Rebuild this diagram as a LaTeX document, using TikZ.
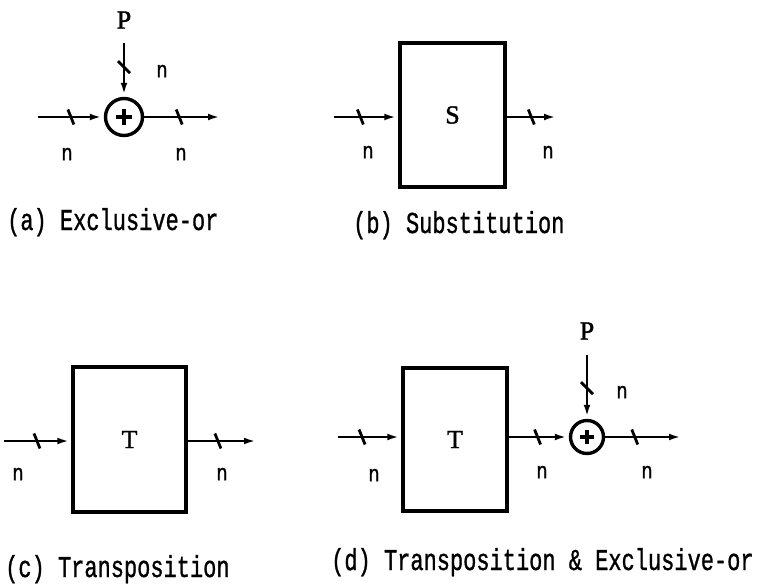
\documentclass[tikz,border=0pt]{standalone}
\usepackage{fontspec}
\setmainfont{Liberation Serif}
\newfontfamily\ltrfont[FakeBold=1.5]{Liberation Serif}
\newfontfamily\capfont[FakeBold=1.2]{Liberation Mono}
\usetikzlibrary{arrows.meta,decorations.markings}
\tikzset{
  conn/.style={line width=2.8pt,-{Latex[length=14pt,width=6.5pt]}},
  tickh/.style={postaction={decorate,decoration={markings,mark=at position #1 with {\draw[-,line width=2.8pt] (-3pt,7.5pt)--(3pt,-7.5pt);}}}},
  tickv/.style={postaction={decorate,decoration={markings,mark=at position #1 with {\draw[-,line width=2.8pt] (-6pt,-6pt)--(6pt,6pt);}}}},
  blockbox/.style={draw,line width=3.4pt,inner sep=0pt,font=\fontsize{26}{26}\ltrfont},
  xorc/.style={draw,circle,line width=3.4pt,minimum size=#1,inner sep=0pt},
  lbl/.style={inner sep=0pt,font=\fontsize{19}{19}\capfont},
  ltr/.style={inner sep=0pt,font=\fontsize{26}{26}\ltrfont},
  capt/.style={inner sep=0pt,anchor=base west,font=\fontsize{22}{22}\capfont}
}
\newcommand{\plusin}[2]{\draw[line width=3.6pt] ([xshift=-#2pt]#1.center) -- ([xshift=#2pt]#1.center);
  \draw[line width=3.6pt] ([yshift=-#2pt]#1.center) -- ([yshift=#2pt]#1.center);}
\newcommand{\tall}[2]{\scalebox{1}[#1]{#2}}
\begin{document}
\begin{tikzpicture}[x=1pt,y=-1pt]
\useasboundingbox (0,0) rectangle (766,586);
% (a)
\node[xorc=37pt] (ax) at (124,117) {};
\plusin{ax}{8}
\coordinate (ain) at (38,117);
\coordinate (aout) at (222,117);
\coordinate (atop) at (124,43);
\draw[conn,tickh=0.5] (ain) -- (ax);
\draw[conn,tickh=0.45] (ax) -- (aout);
\draw[conn,tickv=0.45] (atop) -- (ax);
\node[ltr] (aP) at (124,20) {P};
\node[lbl] (an1) at (162,71) {\tall{1.2}{n}};
\node[lbl] (an2) at (67,154) {\tall{1.2}{n}};
\node[lbl] (an3) at (181,154) {\tall{1.2}{n}};
\node[capt] (acap) at (7,230) {\tall{1.38}{(a) Exclusive-or}};
% (b)
\node[blockbox,minimum width=105pt,minimum height=144pt] (bS) at (452.5,115) {S};
\coordinate (bin) at (334,117);
\coordinate (bout) at (558,117);
\draw[conn,tickh=0.41] (bin) -- (bin -| bS.west);
\draw[conn,tickh=0.48] (bout -| bS.east) -- (bout);
\node[lbl] (bn1) at (368,152) {\tall{1.2}{n}};
\node[lbl] (bn2) at (548,152) {\tall{1.2}{n}};
\node[capt] (bcap) at (353,233) {\tall{1.38}{(b) Substitution}};
% (c)
\node[blockbox,minimum width=113pt,minimum height=145pt] (cT) at (129.5,439.5) {T};
\coordinate (cin) at (4,441);
\coordinate (cout) at (258,441);
\draw[conn,tickh=0.49] (cin) -- (cin -| cT.west);
\draw[conn,tickh=0.43] (cout -| cT.east) -- (cout);
\node[lbl] (cn1) at (18,474) {\tall{1.2}{n}};
\node[lbl] (cn2) at (222,474) {\tall{1.2}{n}};
\node[capt] (ccap) at (5,577) {\tall{1.38}{(c) Transposition}};
% (d)
\node[blockbox,minimum width=104pt,minimum height=143pt] (dT) at (455,439.5) {T};
\node[xorc=33pt] (dx) at (587,437) {};
\plusin{dx}{7}
\coordinate (din) at (338,437);
\coordinate (dout) at (683,437);
\coordinate (dtop) at (587,355);
\draw[conn,tickh=0.38] (din) -- (din -| dT.west);
\draw[conn,tickh=0.48] (dx.west -| dT.east) -- (dx);
\draw[conn,tickh=0.38] (dx) -- (dout);
\draw[conn,tickv=0.52] (dtop) -- (dx);
\node[ltr] (dP) at (587,331) {P};
\node[lbl] (dn1) at (622,392) {\tall{1.2}{n}};
\node[lbl] (dn2) at (374,475) {\tall{1.2}{n}};
\node[lbl] (dn3) at (542,472) {\tall{1.2}{n}};
\node[lbl] (dn4) at (647,472) {\tall{1.2}{n}};
\node[capt] (dcap) at (331,570) {\tall{1.38}{(d) Transposition \& Exclusive-or}};
\end{tikzpicture}
\end{document}
